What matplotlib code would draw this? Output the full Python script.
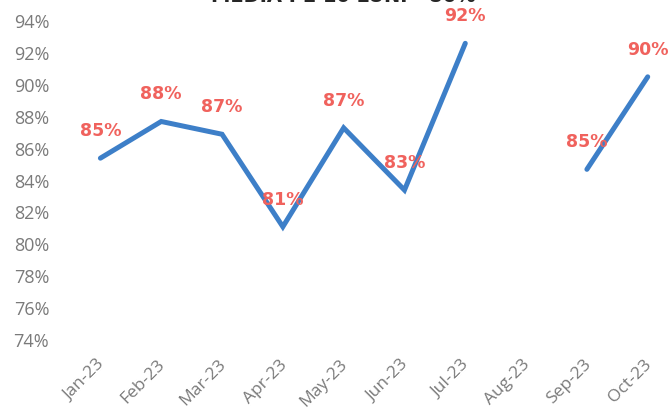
import numpy as np
import matplotlib
matplotlib.use("Agg")
import matplotlib.pyplot as plt
import matplotlib.transforms as mtransforms
from matplotlib.ticker import FuncFormatter

months = ["Jan-23", "Feb-23", "Mar-23", "Apr-23", "May-23",
          "Jun-23", "Jul-23", "Aug-23", "Sep-23", "Oct-23"]
# monthly rate in %, Aug-23 has no value
rate = [85.4, 87.7, 86.9, 81.1, 87.3, 83.4, 92.6, np.nan, 84.7, 90.5]
# data labels as printed on the chart
labels = [85, 88, 87, 81, 87, 83, 92, None, 85, 90]
title = "MEDIA PE 10 LUNI - 86%"

fig = plt.figure(figsize=(6.69, 4.13), dpi=100)
ax = fig.add_axes([70 / 669, 1 - 340 / 413, 599 / 669, 319 / 413])

x = np.arange(len(months))
ax.plot(x, rate, color="#3D7FC8", lw=3.6, solid_capstyle="round",
        solid_joinstyle="miter")

for xi, yi, lab in zip(x, rate, labels):
    if lab is None:
        continue
    ax.annotate(f"{lab}%", (xi, yi), xytext=(0, 27), textcoords="offset pixels",
                ha="center", va="center", color="#F0625D",
                fontsize=12.5, fontweight="bold", annotation_clip=False)

ax.set_xlim(-0.5, 9.35)
ax.set_ylim(74, 94)
ax.set_yticks(np.arange(74, 95, 2))
ax.yaxis.set_major_formatter(FuncFormatter(lambda v, p: f"{v:.0f}%"))
ax.set_xticks(x)
ax.set_xticklabels(months, rotation=45, ha="right", rotation_mode="anchor")

for s in ax.spines.values():
    s.set_visible(False)
ax.tick_params(length=0, colors="#7A7A7A", labelsize=13)
ax.tick_params(axis="y", pad=15)
ax.tick_params(axis="x", pad=12, labelsize=12.5)

# nudge x labels a bit to the left
shift = mtransforms.ScaledTranslation(-4 / 100, 0, fig.dpi_scale_trans)
for t in ax.get_xticklabels():
    t.set_transform(t.get_transform() + shift)
for t in ax.get_xticklabels() + ax.get_yticklabels():
    t.set_fontfamily("Open Sans")

fig.text(0.513, 1 - 2 / 413, title, ha="center", va="baseline",
         fontsize=14, fontweight="bold", color="#262626")

fig.savefig("out.png", dpi=100, facecolor="white")
